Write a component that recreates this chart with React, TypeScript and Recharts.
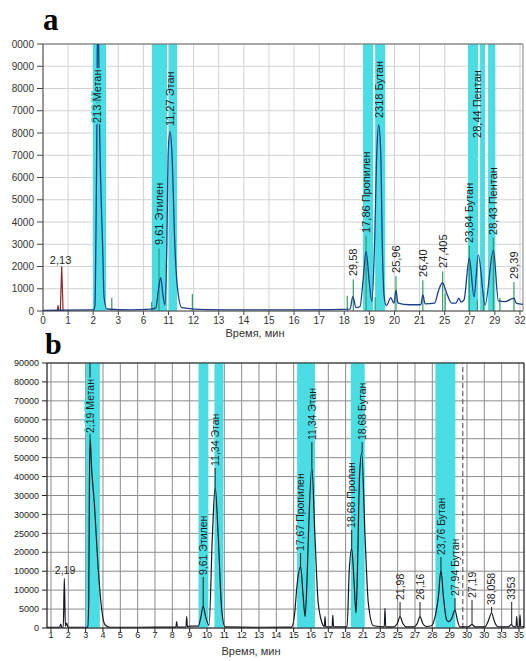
import React from 'react';
import {
  ComposedChart, Line, XAxis, YAxis, CartesianGrid,
  ReferenceArea, ReferenceLine, ReferenceDot,
} from 'recharts';

const SANS = '"Liberation Sans", Arial, sans-serif';
const SERIF = '"Liberation Serif", "Times New Roman", serif';
const CYAN = '#4adde4';

// ---------- panel a ----------
const aXLabels = ['0', '1', '2', '3', '6', '11', '12', '13', '14', '15', '16', '17', '18', '19', '20', '21', '25', '27', '29', '32'];
const aYLabels = ['0', '1000', '2000', '3000', '4000', '5000', '6000', '7000', '8000', '7000', '8000', '9000', '0000'];

const aBlueX = [0, 1.9, 2.03, 2.07, 2.11, 2.14, 2.18, 2.27, 2.38, 2.43, 2.54, 3.5, 4.3, 4.5, 4.58, 4.69, 4.78, 4.86, 4.93, 4.99, 5.06, 5.13, 5.26, 5.37, 5.53, 6.5, 9, 11.5, 12.23, 12.34, 12.47, 12.63, 12.74, 12.87, 13.0, 13.1, 13.2, 13.3, 13.37, 13.45, 13.52, 13.59, 13.67, 13.72, 13.85, 13.98, 14.06, 14.14, 14.6, 15.05, 15.13, 15.22, 15.6, 15.75, 15.91, 16.08, 16.28, 16.45, 16.56, 16.65, 16.77, 16.98, 17.17, 17.34, 17.61, 17.94, 18.14, 18.4, 18.76, 18.85, 19.12];
const aBlueY = [30, 50, 60, 300, 3500, 7240, 14000, 7240, 2700, 650, 90, 50, 80, 150, 800, 1500, 700, 270, 2740, 7240, 8060, 7240, 2740, 900, 150, 60, 50, 60, 80, 640, 150, 200, 1260, 2670, 1260, 420, 2740, 7240, 8360, 7240, 2740, 640, 250, 300, 600, 350, 940, 350, 280, 280, 720, 320, 350, 900, 1270, 800, 350, 350, 580, 400, 500, 2370, 640, 2520, 270, 2740, 450, 420, 580, 350, 300];

const aGreenX = [2.74, 4.33, 4.62, 5.95, 12.12, 12.36, 12.87, 13.23, 14.06, 15.13, 15.92, 16.02, 16.98, 17.3, 17.55, 17.94, 18.2, 18.76];
const aGreenY = [600, 420, 2800, 760, 690, 1420, 3380, 630, 1560, 1380, 1780, 800, 2930, 500, 800, 3280, 600, 1300];

const aRedX = [0.57, 0.6, 0.63, 0.69, 0.745, 0.8];
const aRedY = [0, 250, 0, 0, 2000, 0];

const aBands: [number, number][] = [[1.99, 2.51], [4.34, 4.94], [5.02, 5.34], [12.75, 13.15], [13.23, 13.63], [16.93, 17.33], [17.41, 17.61], [17.73, 18.01]];

const aLabText = ['213 Метан', '11,27 Этан', '9,61 Этилен', '29,58', '17,86 Пропилен', '2318 Бутан', '25,96', '26,40', '27,405', '23,84 Бутан', '28,44 Пентан', '28,43 Пентан', '29,39'];
const aLabX = [2.16, 5.06, 4.62, 12.36, 12.87, 13.38, 14.06, 15.13, 15.92, 16.98, 17.28, 17.94, 18.76];
const aLabY = [8360, 8220, 2880, 1480, 3420, 8580, 1620, 1440, 1840, 2970, 7690, 3330, 1350];

// ---------- panel b ----------
const bXLabels = ['1', '2', '3', '4', '5', '6', '7', '8', '9', '10', '11', '12', '13', '14', '15', '16', '17', '18', '21', '23', '25', '27', '28', '29', '30', '30', '33', '35'];
const bYLabels = ['0', '5000', '10000', '10000', '20000', '25000', '30000', '30000', '40000', '50000', '50000', '60000', '70000', '80000', '90000'];

const bX = [-0.23, 0.5, 0.56, 0.62, 0.71, 0.77, 0.83, 0.9, 0.98, 1.8, 2.13, 2.18, 2.21, 2.25, 2.35, 2.5, 2.73, 2.93, 3.12, 3.4, 5, 7.1, 7.21, 7.25, 7.29, 7.79, 7.83, 7.87, 8.0, 8.4, 8.5, 8.65, 8.78, 8.92, 9.12, 9.31, 9.47, 9.65, 9.85, 10.04, 12, 13.8, 13.89, 14.05, 14.2, 14.4, 14.54, 14.66, 14.76, 14.85, 15.05, 15.23, 15.42, 15.71, 15.77, 15.81, 15.85, 16.22, 16.26, 16.3, 16.7, 17.08, 17.21, 17.35, 17.48, 17.6, 17.68, 17.8, 17.93, 18.12, 18.31, 18.6, 19.23, 19.27, 19.31, 19.75, 19.98, 20.14, 20.3, 20.53, 20.91, 21.13, 21.29, 21.45, 21.65, 21.95, 22.16, 22.35, 22.5, 22.64, 22.83, 22.93, 23.1, 23.31, 23.45, 23.6, 24.06, 24.29, 24.47, 25.04, 25.2, 25.42, 25.6, 25.79, 26.4, 26.55, 26.7, 26.83, 26.87, 26.91, 27.02, 27.06, 27.1, 27.29];
const bY = [200, 200, 1000, 200, 200, 13100, 500, 1300, 200, 200, 200, 8000, 33000, 50500, 41700, 32900, 15300, 4750, 800, 200, 200, 250, 250, 1700, 250, 300, 3000, 300, 500, 500, 500, 3000, 5800, 3000, 700, 24100, 37300, 24100, 4750, 300, 200, 250, 300, 3500, 11500, 16200, 9000, 3000, 11000, 24100, 42600, 24100, 6500, 600, 300, 3000, 300, 300, 3400, 300, 300, 300, 15300, 21000, 12700, 3900, 15000, 40000, 46200, 24100, 6500, 600, 300, 5200, 300, 300, 1200, 3000, 1200, 300, 300, 1200, 3000, 1200, 400, 600, 3000, 8300, 15300, 8300, 2100, 1700, 2300, 4750, 2000, 300, 300, 900, 300, 300, 1500, 3900, 1500, 300, 300, 900, 300, 300, 3000, 300, 300, 3500, 300, 400];

const bBands: [number, number][] = [[2.01, 2.82], [8.51, 9.08], [9.43, 9.94], [14.2, 15.23], [17.3, 18.1], [22.18, 23.33]];

const bLabText = ['2,19 Метан', '9,61 Этилен', '11,34 Этан', '17,67 Пропилен', '11,34 Этан', '18,68 Пропан', '18,68 Бутан', '21,98', '26,16', '23,76 Бутан', '27,94 Бутан', '27,19', '38,058', '3353'];
const bLabX = [2.25, 8.78, 9.47, 14.4, 15.05, 17.35, 17.95, 20.14, 21.29, 22.5, 23.31, 24.29, 25.42, 26.58];
const bLabY = [50970, 13470, 42260, 19800, 49100, 25900, 49100, 6870, 6870, 18750, 7920, 7400, 5550, 6870];
const bLabPeak = [50500, 5800, 37300, 16200, 42600, 21000, 46200, 3000, 3000, 15300, 4750, 900, 3900, 900];

const pts = (xs: number[], ys: number[]) => xs.map((x, i) => ({ x, y: ys[i] }));
const spikes = (xs: number[], ys: number[]) =>
  xs.flatMap((x, i) => [{ x, y: 0 }, { x, y: ys[i] }, { x: x + 0.001, y: null }]);

const aBlue = pts(aBlueX, aBlueY);
const aGreen = spikes(aGreenX, aGreenY);
const aRed = pts(aRedX, aRedY);
const bLine = pts(bX, bY);

const vText = (text: string, size: number, halo?: string) => (p: any) => (
  <text
    x={p.cx} y={p.cy} dx={2} dy="0.36em"
    transform={`rotate(-90 ${p.cx} ${p.cy})`}
    fontSize={size} fontFamily={SANS} fill="#1e1e1e"
    stroke={halo || 'none'} strokeWidth={halo ? 4 : 0} paintOrder="stroke"
  >{text}</text>
);

const hText = (text: string, size: number) => (p: any) => (
  <text x={p.cx} y={p.cy} dy="0.36em" textAnchor="middle" fontSize={size} fontFamily={SANS} fill="#1e1e1e">{text}</text>
);

const abs = (left: number, top: number): React.CSSProperties => ({ position: 'absolute', left, top });

export default function App() {
  const aMaxX = 19.12;
  const bMinX = -0.23;
  const bMaxX = 27.29;
  return (
    <div style={{ position: 'absolute', left: 0, top: 0, width: 526, height: 661, background: '#fff', overflow: 'hidden' }}>
      <div style={abs(0, 0)}>
        <ComposedChart width={526} height={340} margin={{ top: 44, right: 3, bottom: 9, left: 0 }}>
          <CartesianGrid stroke="#d2d2d2" strokeWidth={1} />
          {aBands.map(([x1, x2], i) => (
            <ReferenceArea key={'ab' + i} x1={x1} x2={x2} fill={CYAN} fillOpacity={1} stroke="none" />
          ))}
          <XAxis
            type="number" dataKey="x" domain={[0, aMaxX]} allowDataOverflow
            ticks={aXLabels.map((_, i) => i)} interval={0}
            tickFormatter={(v: number) => aXLabels[v]}
            height={20} tickSize={4} tickMargin={2}
            stroke="#444" tick={{ fontSize: 10, fill: '#333', fontFamily: SANS }}
          />
          <YAxis
            type="number" domain={[0, 12000]} allowDataOverflow
            ticks={aYLabels.map((_, i) => i * 1000)} interval={0}
            tickFormatter={(v: number) => aYLabels[Math.round(v / 1000)]}
            width={43} tickSize={6} tickMargin={3}
            stroke="#444" tick={{ fontSize: 10, fill: '#333', fontFamily: SANS }}
          />
          <ReferenceLine y={12000} stroke="#666" />
          <ReferenceLine x={aMaxX} stroke="#999" />
          <Line data={aRed} dataKey="y" type="linear" stroke="#8c2a2a" strokeWidth={1.2} dot={false} isAnimationActive={false} />
          <Line data={aGreen} dataKey="y" type="linear" stroke="#2e9e6a" strokeWidth={1.2} dot={false} isAnimationActive={false} connectNulls={false} />
          <Line data={aBlue} dataKey="y" type="monotone" stroke="#1c3f8c" strokeWidth={1.3} dot={false} isAnimationActive={false} />
          {aLabText.map((t, i) => (
            <ReferenceDot key={'al' + i} x={aLabX[i]} y={aLabY[i]} r={0} shape={vText(t, 11, i === 0 ? CYAN : undefined)} />
          ))}
          <ReferenceDot x={0.7} y={2290} r={0} shape={hText('2,13', 11)} />
        </ComposedChart>
      </div>

      <div style={{ ...abs(43, 4), fontFamily: SERIF, fontWeight: 'bold', fontSize: 31, lineHeight: '31px', color: '#000' }}>a</div>
      <div style={{ ...abs(205, 327), width: 100, textAlign: 'center', fontFamily: SANS, fontSize: 11, lineHeight: '13px', color: '#333' }}>Время, мин</div>

      <div style={abs(0, 340)}>
        <ComposedChart width={526} height={321} margin={{ top: 23, right: 2, bottom: 13, left: 0 }}>
          {bBands.map(([x1, x2], i) => (
            <ReferenceArea key={'bb' + i} x1={x1} x2={x2} fill={CYAN} fillOpacity={1} stroke="none" />
          ))}
          <CartesianGrid stroke="#8c8c8c" strokeWidth={1} />
          <XAxis
            type="number" dataKey="x" domain={[bMinX, bMaxX]} allowDataOverflow
            ticks={bXLabels.map((_, i) => i)} interval={0}
            tickFormatter={(v: number) => bXLabels[v]}
            height={20} tickSize={4} tickMargin={0}
            stroke="#222" tick={{ fontSize: 9, fill: '#222', fontFamily: SANS }}
          />
          <YAxis
            type="number" domain={[0, 70000]} allowDataOverflow
            ticks={bYLabels.map((_, i) => i * 5000)} interval={0}
            tickFormatter={(v: number) => bYLabels[Math.round(v / 5000)]}
            width={47} tickSize={5} tickMargin={3}
            stroke="#222" tick={{ fontSize: 9, fill: '#222', fontFamily: SANS }}
          />
          <ReferenceLine y={70000} stroke="#222" />
          <ReferenceLine x={bMaxX} stroke="#222" />
          <ReferenceLine x={23.76} stroke="#444" strokeDasharray="5 3" />
          <Line data={bLine} dataKey="y" type="monotone" stroke="#141820" strokeWidth={1.2} dot={false} isAnimationActive={false} />
          {bLabText.map((t, i) => (
            <ReferenceLine
              key={'bk' + i}
              segment={[{ x: bLabX[i], y: bLabPeak[i] }, { x: bLabX[i], y: i === 0 ? 70000 : bLabY[i] }]}
              stroke="#222"
            />
          ))}
          {bLabText.map((t, i) => (
            <ReferenceDot key={'bl' + i} x={bLabX[i]} y={bLabY[i]} r={0} shape={vText(t, 10.5, i === 0 ? CYAN : undefined)} />
          ))}
          <ReferenceDot x={0.81} y={15300} r={0} shape={hText('2,19', 10.5)} />
        </ComposedChart>
      </div>

      <div style={{ ...abs(45, 329), fontFamily: SERIF, fontWeight: 'bold', fontSize: 30, lineHeight: '30px', color: '#000' }}>b</div>
      <div style={{ ...abs(201, 645), width: 100, textAlign: 'center', fontFamily: SANS, fontSize: 11, lineHeight: '13px', color: '#333' }}>Время, мин</div>
    </div>
  );
}
